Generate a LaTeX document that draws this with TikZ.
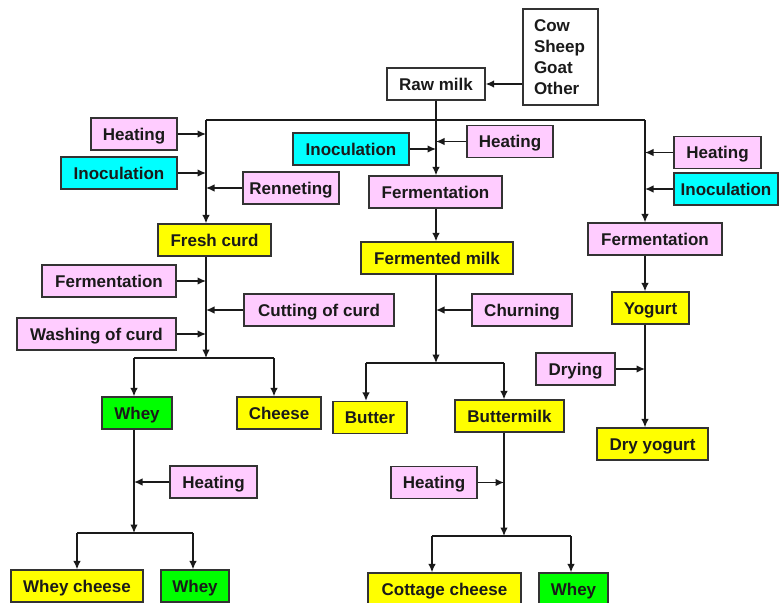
\documentclass[tikz,border=0pt]{standalone}
\usepackage{fontspec}
\setmainfont{Liberation Sans}
\usetikzlibrary{arrows.meta}
\definecolor{pinkbox}{HTML}{FFCCFF}
\definecolor{cyanbox}{HTML}{00FFFF}
\definecolor{yellowbox}{HTML}{FFFF00}
\definecolor{greenbox}{HTML}{00FF00}
\definecolor{edge}{HTML}{333333}
\definecolor{ink}{HTML}{1A1A1A}
\begin{document}
\begin{tikzpicture}[x=1pt,y=-1pt,
  framed/.style={draw=edge,line width=1.2pt,inner sep=0pt,text=ink},
  box/.style={framed,minimum height=32pt,text height=12pt,text depth=0pt,
    font=\fontsize{17}{20}\selectfont\bfseries},
  stepbox/.style={box,fill=pinkbox},
  inocbox/.style={box,fill=cyanbox},
  prodbox/.style={box,fill=yellowbox},
  wheybox/.style={box,fill=greenbox},
  plainbox/.style={box,fill=white},
  flow/.style={draw=ink,line width=1.4pt},
  arr/.style={flow,-{Latex[length=8.5pt,width=7.5pt]}}]
\useasboundingbox (0,0) rectangle (780,603);

% sources and raw milk
\node[framed,fill=white,minimum width=75pt,minimum height=96pt,text width=53pt,
  inner xsep=11pt,align=left,font=\fontsize{17}{21}\selectfont\bfseries]
  (src) at (560.5,57) {Cow\\Sheep\\Goat\\Other};
\node[plainbox,minimum width=98pt] (raw) at (436,84) {Raw milk};

% cheese branch
\node[stepbox,minimum width=86pt] (hL) at (134,134) {Heating};
\node[inocbox,minimum width=116pt] (iL) at (119,173) {Inoculation};
\node[stepbox,minimum width=96pt] (ren) at (291,188) {Renneting};
\node[prodbox,minimum width=113pt] (fc) at (214.5,240) {Fresh curd};
\node[stepbox,minimum width=134pt] (fL) at (109,281) {Fermentation};
\node[stepbox,minimum width=150pt] (cut) at (319,310) {Cutting of curd};
\node[stepbox,minimum width=159pt] (wash) at (96.5,334) {Washing of curd};
\node[wheybox,minimum width=70pt] (wh1) at (137,413) {Whey};
\node[prodbox,minimum width=84pt] (ch) at (279,413) {Cheese};
\node[stepbox,minimum width=87pt] (hW) at (213.5,482) {Heating};
\node[prodbox,minimum width=132pt] (wc) at (77,586) {Whey cheese};
\node[wheybox,minimum width=68pt] (wh2) at (195,586) {Whey};

% fermented milk branch
\node[inocbox,minimum width=116pt] (iM) at (351,149) {Inoculation};
\node[stepbox,minimum width=86pt] (hM) at (510,141.5) {Heating};
\node[stepbox,minimum width=133pt] (fM) at (435.5,192) {Fermentation};
\node[prodbox,minimum width=152pt] (fm) at (437,258) {Fermented milk};
\node[stepbox,minimum width=100pt] (chu) at (522,310) {Churning};
\node[prodbox,minimum width=74pt] (but) at (370,417.5) {Butter};
\node[prodbox,minimum width=109pt] (bm) at (509.5,416) {Buttermilk};
\node[stepbox,minimum width=86pt] (hB) at (434,482.5) {Heating};
\node[prodbox,minimum width=153pt] (cc) at (444.5,589) {Cottage cheese};
\node[wheybox,minimum width=69pt] (wh3) at (573.5,589) {Whey};

% yogurt branch
\node[stepbox,minimum width=87pt] (hR) at (717.5,152.5) {Heating};
\node[inocbox,minimum width=104pt] (iR) at (726,189) {Inoculation};
\node[stepbox,minimum width=134pt] (fR) at (655,239) {Fermentation};
\node[prodbox,minimum width=77pt] (yog) at (650.5,308) {Yogurt};
\node[stepbox,minimum width=79pt] (dry) at (575.5,369) {Drying};
\node[prodbox,minimum width=111pt] (dy) at (652.5,444) {Dry yogurt};

% junction points of the flow lines
\coordinate (tl) at (206,120);
\coordinate (tm) at (436,120);
\coordinate (tr) at (645,120);
\coordinate (s1) at (206,358);
\coordinate (d1) at (134,358);
\coordinate (d2) at (274,358);
\coordinate (s2) at (134,533);
\coordinate (e1) at (77,533);
\coordinate (e2) at (193,533);
\coordinate (s3) at (436,363);
\coordinate (m1) at (366,363);
\coordinate (m2) at (504,363);
\coordinate (s4) at (504,536);
\coordinate (n1) at (432,536);
\coordinate (n2) at (571,536);

% raw milk distribution
\draw[arr] (src.west |- raw.east) -- (raw.east);
\draw[flow] (tl) -- (tr);
\draw[arr] (raw.south) -- (raw.south |- fM.north);
\draw[arr] (tl) -- (tl |- fc.north);
\draw[arr] (tr) -- (tr |- fR.north);

% cheese branch
\draw[arr] (hL.east) -- (hL.east -| tl);
\draw[arr] (iL.east) -- (iL.east -| tl);
\draw[arr] (ren.west) -- (ren.west -| tl);
\draw[arr] (fc.south -| s1) -- (s1);
\draw[arr] (fL.east) -- (fL.east -| s1);
\draw[arr] (cut.west) -- (cut.west -| s1);
\draw[arr] (wash.east) -- (wash.east -| s1);
\draw[flow] (d1) -- (d2);
\draw[arr] (d1) -- (d1 |- wh1.north);
\draw[arr] (d2) -- (d2 |- ch.north);
\draw[arr] (wh1.south -| s2) -- (s2);
\draw[arr] (hW.west) -- (hW.west -| s2);
\draw[flow] (e1) -- (e2);
\draw[arr] (e1) -- (e1 |- wc.north);
\draw[arr] (e2) -- (e2 |- wh2.north);

% fermented milk branch
\draw[arr] (iM.east) -- (iM.east -| tm);
\draw[arr] (hM.west) -- (hM.west -| tm);
\draw[arr] (fM.south -| tm) -- (tm |- fm.north);
\draw[arr] (fm.south -| s3) -- (s3);
\draw[arr] (chu.west) -- (chu.west -| s3);
\draw[flow] (m1) -- (m2);
\draw[arr] (m1) -- (m1 |- but.north);
\draw[arr] (m2) -- (m2 |- bm.north);
\draw[arr] (bm.south -| s4) -- (s4);
\draw[arr] (hB.east) -- (hB.east -| s4);
\draw[flow] (n1) -- (n2);
\draw[arr] (n1) -- (n1 |- cc.north);
\draw[arr] (n2) -- (n2 |- wh3.north);

% yogurt branch
\draw[arr] (hR.west) -- (hR.west -| tr);
\draw[arr] (iR.west) -- (iR.west -| tr);
\draw[arr] (fR.south -| tr) -- (tr |- yog.north);
\draw[arr] (yog.south -| tr) -- (tr |- dy.north);
\draw[arr] (dry.east) -- (dry.east -| tr);
\end{tikzpicture}
\end{document}
